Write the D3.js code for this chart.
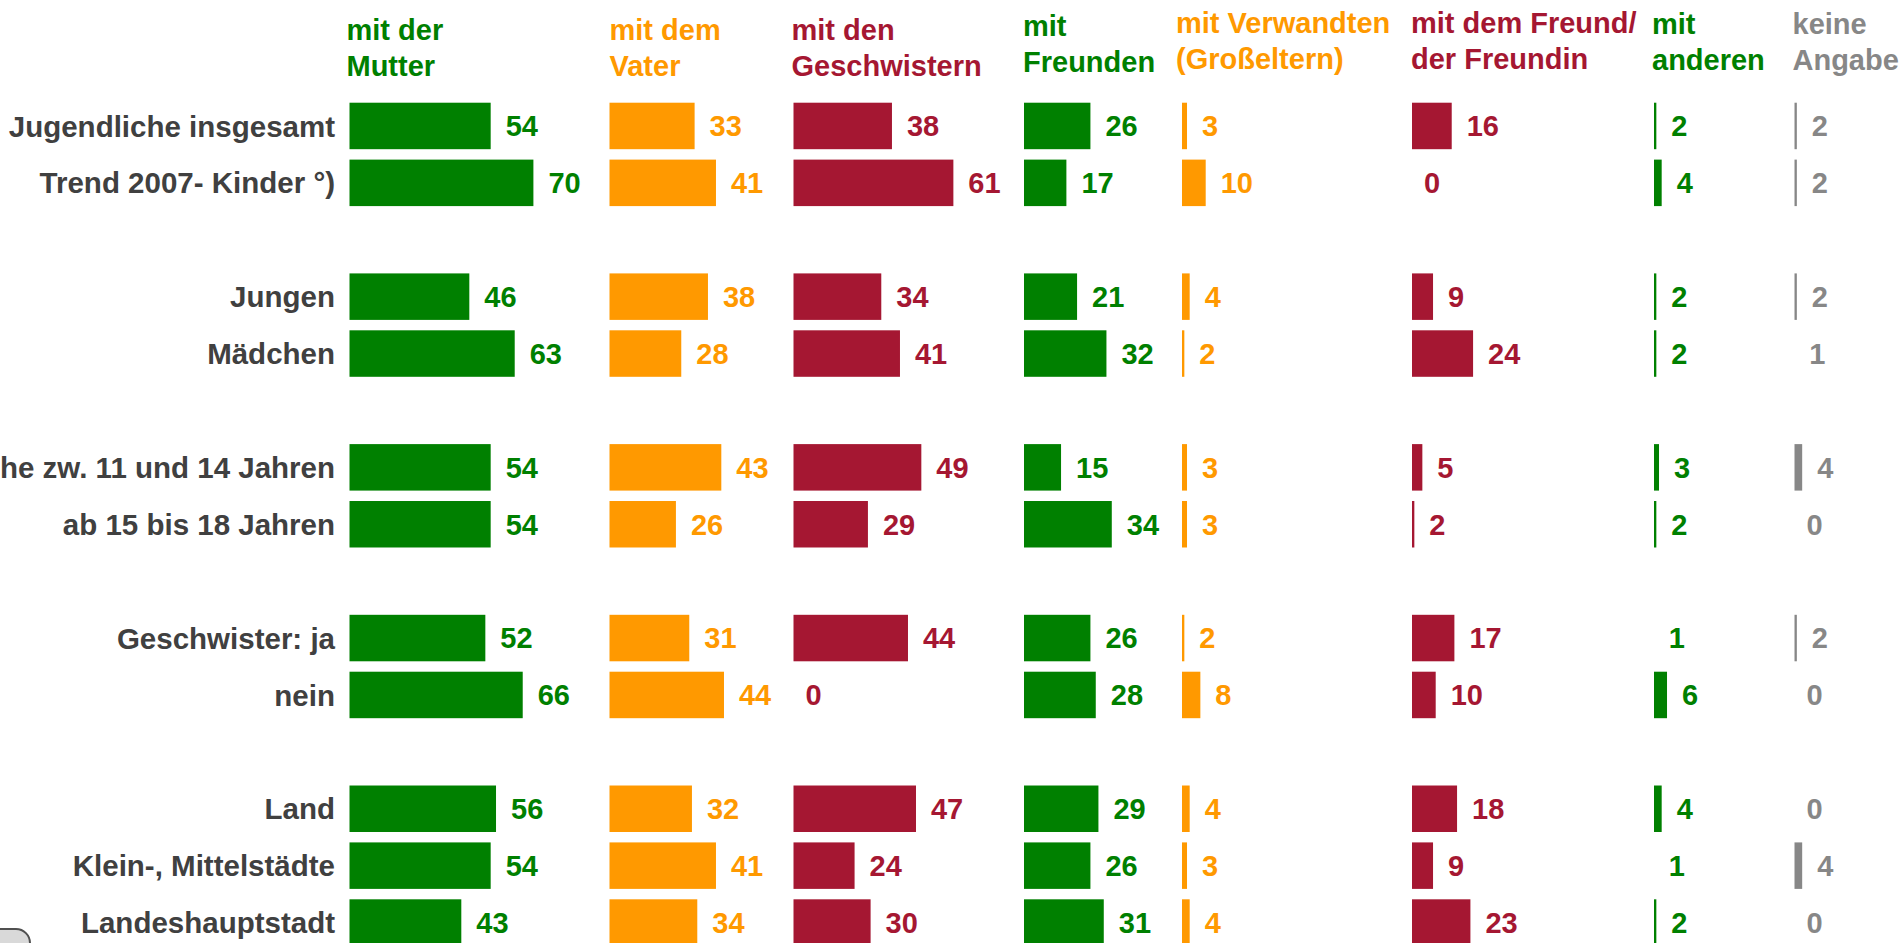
<!DOCTYPE html>
<html>
<head>
<meta charset="utf-8">
<script src="https://cdn.jsdelivr.net/npm/d3@7"></script>
<style>
  body { margin: 0; background: #fff; overflow: hidden; }
  text { font-family: "Liberation Sans", Arial, sans-serif; font-weight: bold; }
</style>
</head>
<body>
<div id="chart"></div>
<script>
// Row categories (the gaps between groups come from the group index)
const rowLabels = [
    "Jugendliche insgesamt", "Trend 2007- Kinder °)",
    "Jungen", "Mädchen",
    "Jugendliche zw. 11 und 14 Jahren", "ab 15 bis 18 Jahren",
    "Geschwister: ja", "nein",
    "Land", "Klein-, Mittelstädte", "Landeshauptstadt"
];
const rowGroup = [0, 0, 1, 1, 2, 2, 3, 3, 4, 4, 4];

// Column headers (two lines each)
const headers = [
    ["mit der", "Mutter"],
    ["mit dem", "Vater"],
    ["mit den", "Geschwistern"],
    ["mit", "Freunden"],
    ["mit Verwandten", "(Großeltern)"],
    ["mit dem Freund/", "der Freundin"],
    ["mit", "anderen"],
    ["keine", "Angabe"]
];

// Values per column, in row order
const mutter      = [54, 70, 46, 63, 54, 54, 52, 66, 56, 54, 43];
const vater       = [33, 41, 38, 28, 43, 26, 31, 44, 32, 41, 34];
const geschwister = [38, 61, 34, 41, 49, 29, 44, 0, 47, 24, 30];
const freunde     = [26, 17, 21, 32, 15, 34, 26, 28, 29, 26, 31];
const verwandte   = [3, 10, 4, 2, 3, 3, 2, 8, 4, 3, 4];
const freundin    = [16, 0, 9, 24, 5, 2, 17, 10, 18, 9, 23];
const andere      = [2, 4, 2, 2, 3, 2, 1, 6, 4, 1, 2];
const keineAngabe = [2, 2, 2, 1, 4, 0, 2, 0, 0, 4, 0];

const series = [mutter, vater, geschwister, freunde, verwandte, freundin, andere, keineAngabe];

// layout / style
const colors = ["#008000", "#ff9900", "#a51732", "#008000", "#ff9900", "#a51732", "#008000", "#878787"];
const colX = [349.5, 609.5, 793.5, 1024, 1182, 1412, 1654, 1794.5];
const headerDx = [-3, 0, -2, -1, -6, -1, -2, -2];
const headerDy = [0, 0, 0, -4, -7, -7, -6, -6];

const width = 1902, height = 943;

const svg = d3.select("#chart").append("svg")
    .attr("width", width)
    .attr("height", height);

// 15 slots: 11 rows + 4 empty slots between groups
const y = d3.scaleBand()
    .domain(d3.range(15))
    .range([97.5, 951])
    .paddingInner(0.183)
    .paddingOuter(0.0915);

// bars lose ~3px to their border, so small values become thin lines or vanish
const x = d3.scaleLinear().domain([0, 100]).range([-3, 264]);

const slot = i => i + rowGroup[i];

// row labels
svg.append("g")
    .selectAll("text")
    .data(rowLabels)
    .enter().append("text")
    .attr("x", 335)
    .attr("y", (d, i) => y(slot(i)) + y.bandwidth() / 2)
    .attr("dy", "0.36em")
    .attr("text-anchor", "end")
    .attr("font-size", "29.5px")
    .attr("fill", "#404040")
    .text(d => d);

// headers
const head = svg.append("g")
    .selectAll("text")
    .data(headers)
    .enter().append("text")
    .attr("x", (d, c) => colX[c] + headerDx[c])
    .attr("y", (d, c) => 40 + headerDy[c])
    .attr("font-size", "29px")
    .attr("fill", (d, c) => colors[c]);

head.selectAll("tspan")
    .data(d => d)
    .enter().append("tspan")
    .attr("x", function() { return this.parentNode.getAttribute("x"); })
    .attr("dy", (d, k) => k === 0 ? 0 : 36)
    .text(d => d);

// one group per column
const cols = svg.append("g")
    .selectAll("g")
    .data(series)
    .enter().append("g")
    .attr("transform", (d, c) => `translate(${colX[c]},0)`);

cols.selectAll("rect")
    .data((d, c) => d.map((v, i) => ({ v, i, c })))
    .enter().append("rect")
    .attr("x", 0)
    .attr("y", d => y(slot(d.i)))
    .attr("width", d => Math.max(0, x(d.v)))
    .attr("height", y.bandwidth())
    .attr("fill", d => colors[d.c]);

cols.selectAll("text")
    .data((d, c) => d.map((v, i) => ({ v, i, c })))
    .enter().append("text")
    .attr("x", d => x(d.v) + 15)
    .attr("y", d => y(slot(d.i)) + y.bandwidth() / 2)
    .attr("dy", "0.36em")
    .attr("font-size", "29px")
    .attr("fill", d => colors[d.c])
    .text(d => d.v);

// partly visible button in the lower left corner
svg.append("rect")
    .attr("x", -20)
    .attr("y", 929)
    .attr("width", 50)
    .attr("height", 40)
    .attr("rx", 14)
    .attr("fill", "#d9d9d9")
    .attr("stroke", "#505050")
    .attr("stroke-width", 2);
</script>
</body>
</html>
